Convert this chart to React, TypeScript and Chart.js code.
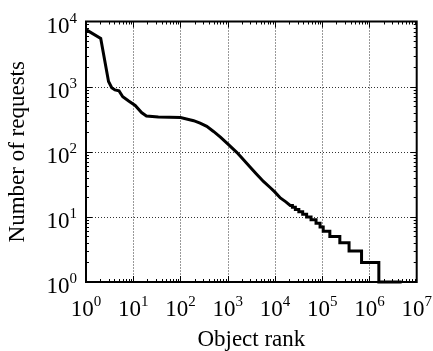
import React, { useEffect, useRef } from 'react';
import { Chart, registerables } from 'chart.js';

Chart.register(...registerables);

// Smooth part of the rank/frequency curve (rank, number of requests)
const smoothRanks = [1, 2.05, 3, 3.5, 4.1, 5, 6, 8, 11, 15, 19, 34, 100, 190, 260, 360, 500, 700, 1000, 1550, 2000, 3000, 4000, 5700, 8000, 10000, 13000, 17000, 21000];
const smoothCounts = [7500, 5500, 1200, 960, 890, 860, 700, 600, 515, 400, 355, 343, 336, 300, 275, 245, 205, 168, 132, 98, 80, 58, 46, 35, 28, 24, 19.5, 17, 15];

// Integer-count staircase in the tail: rank at which each count level begins
const stepStartRanks = [23400, 27000, 32000, 38600, 46800, 58000, 74000, 90000, 105000, 145000, 236000, 370000, 680000, 1580000];
const stepCounts = [14, 13, 12, 11, 10, 9, 8, 7, 6, 5, 4, 3, 2, 1];
const lastRank = 4800000;

const xTickValues = [1, 10, 100, 1e3, 1e4, 1e5, 1e6, 1e7];
const xTickExponents = ['0', '1', '2', '3', '4', '5', '6', '7'];
const yTickValues = [1, 10, 100, 1e3, 1e4];
const yTickExponents = ['0', '1', '2', '3', '4'];

const xTitle = 'Object rank';
const yTitle = 'Number of requests';

const FONT = '"Liberation Serif", "Times New Roman", serif';

function buildPoints() {
  const pts: { x: number; y: number }[] = smoothRanks.map((r, i) => ({ x: r, y: smoothCounts[i] }));
  let prev = smoothCounts[smoothCounts.length - 1];
  stepStartRanks.forEach((r, i) => {
    pts.push({ x: r, y: prev });
    pts.push({ x: r, y: stepCounts[i] });
    prev = stepCounts[i];
  });
  pts.push({ x: lastRank, y: prev });
  return pts;
}

function drawPow(ctx: CanvasRenderingContext2D, exp: string, x: number, y: number, align: 'center' | 'right') {
  const main = `23px ${FONT}`;
  const sup = `15px ${FONT}`;
  ctx.font = main;
  const mw = ctx.measureText('10').width;
  ctx.font = sup;
  const sw = ctx.measureText(exp).width;
  const total = mw + sw;
  const left = align === 'center' ? x - total / 2 : x - total;
  ctx.textAlign = 'left';
  ctx.textBaseline = 'alphabetic';
  ctx.fillStyle = '#000';
  ctx.font = main;
  ctx.fillText('10', left, y);
  ctx.font = sup;
  ctx.fillText(exp, left + mw, y - 10);
}

const framePlugin = {
  id: 'logFrame',
  beforeDatasetsDraw(chart: any) {
    const { ctx, chartArea: a, scales } = chart;
    const xs = scales.x;
    const ys = scales.y;
    ctx.save();
    ctx.strokeStyle = '#333';
    ctx.lineWidth = 1;
    ctx.setLineDash([1, 2]);
    xTickValues.forEach((v) => {
      const px = Math.round(xs.getPixelForValue(v)) + 0.5;
      if (px <= a.left + 2 || px >= a.right - 2) return;
      ctx.beginPath();
      ctx.moveTo(px, a.top);
      ctx.lineTo(px, a.bottom);
      ctx.stroke();
    });
    yTickValues.forEach((v) => {
      const py = Math.round(ys.getPixelForValue(v)) + 0.5;
      if (py <= a.top + 2 || py >= a.bottom - 2) return;
      ctx.beginPath();
      ctx.moveTo(a.left, py);
      ctx.lineTo(a.right, py);
      ctx.stroke();
    });
    ctx.restore();
  },
  afterDatasetsDraw(chart: any) {
    const { ctx, chartArea: a, scales } = chart;
    const xs = scales.x;
    const ys = scales.y;
    ctx.save();
    ctx.setLineDash([]);
    ctx.strokeStyle = '#000';
    // minor/major ticks, inward on all four sides
    ctx.lineWidth = 1;
    for (let k = 0; k < xTickValues.length - 1; k++) {
      for (let m = 1; m <= 9; m++) {
        const v = m * xTickValues[k];
        const px = Math.round(xs.getPixelForValue(v)) + 0.5;
        const len = m === 1 ? 6 : 3;
        ctx.beginPath();
        ctx.moveTo(px, a.bottom);
        ctx.lineTo(px, a.bottom - len);
        ctx.moveTo(px, a.top);
        ctx.lineTo(px, a.top + len);
        ctx.stroke();
      }
    }
    for (let k = 0; k < yTickValues.length - 1; k++) {
      for (let m = 1; m <= 9; m++) {
        const v = m * yTickValues[k];
        const py = Math.round(ys.getPixelForValue(v)) + 0.5;
        const len = m === 1 ? 6 : 3;
        ctx.beginPath();
        ctx.moveTo(a.left, py);
        ctx.lineTo(a.left + len, py);
        ctx.moveTo(a.right, py);
        ctx.lineTo(a.right - len, py);
        ctx.stroke();
      }
    }
    // frame
    ctx.lineWidth = 2;
    ctx.strokeRect(a.left, a.top, a.right - a.left, a.bottom - a.top);
    // tick labels
    xTickValues.forEach((v, i) => {
      drawPow(ctx, xTickExponents[i], xs.getPixelForValue(v), a.bottom + 33.5, 'center');
    });
    yTickValues.forEach((v, i) => {
      drawPow(ctx, yTickExponents[i], 77, ys.getPixelForValue(v) + 11, 'right');
    });
    ctx.restore();
  },
};

export default function App() {
  const ref = useRef<HTMLCanvasElement | null>(null);
  useEffect(() => {
    document.body.style.margin = '0';
    if (!ref.current) return;
    const chart = new Chart(ref.current, {
      type: 'line',
      data: {
        datasets: [
          {
            data: buildPoints(),
            borderColor: '#000',
            backgroundColor: '#000',
            borderWidth: 3,
            pointRadius: 0,
            tension: 0,
            fill: false,
            clip: false as any,
          },
        ],
      },
      options: {
        responsive: false,
        animation: false,
        devicePixelRatio: 1,
        parsing: false as any,
        layout: { padding: { top: 21.5, right: 16.3, left: 0, bottom: 0 } },
        plugins: { legend: { display: false }, tooltip: { enabled: false } },
        scales: {
          x: {
            type: 'logarithmic',
            min: 1,
            max: 1e7,
            grid: { display: false },
            border: { display: false },
            ticks: { display: false },
            afterBuildTicks: (s: any) => {
              s.ticks = xTickValues.map((v) => ({ value: v }));
            },
            afterFit: (s: any) => {
              s.height = 69;
            },
            title: {
              display: true,
              text: xTitle,
              color: '#000',
              font: { family: FONT, size: 23, lineHeight: 1 },
              padding: { top: 0, bottom: 0 },
            },
          },
          y: {
            type: 'logarithmic',
            min: 1,
            max: 1e4,
            grid: { display: false },
            border: { display: false },
            ticks: { display: false },
            afterBuildTicks: (s: any) => {
              s.ticks = yTickValues.map((v) => ({ value: v }));
            },
            afterFit: (s: any) => {
              s.width = 86;
            },
            title: {
              display: true,
              text: yTitle,
              color: '#000',
              font: { family: FONT, size: 23, lineHeight: 1 },
              padding: { top: 6, bottom: 0 },
            },
          },
        },
      },
      plugins: [framePlugin],
    });
    return () => chart.destroy();
  }, []);
  return (
    <div style={{ width: 433, height: 351, position: 'relative' }}>
      <canvas ref={ref} width={433} height={351} style={{ display: 'block' }} />
    </div>
  );
}
